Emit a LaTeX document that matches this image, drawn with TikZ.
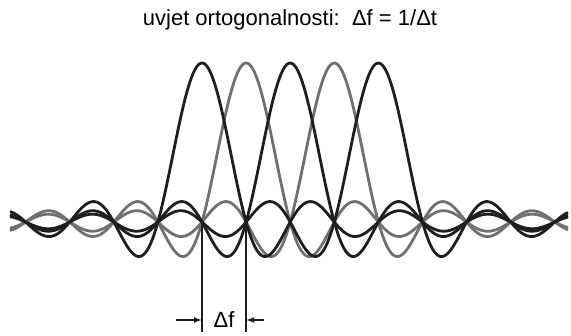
\documentclass[tikz,border=0pt]{standalone}
\usepackage{fontspec}
\setmainfont{Liberation Sans}
\usepackage{xcolor}
\usetikzlibrary{positioning, arrows.meta}
\definecolor{darkline}{HTML}{1E1E1E}
\definecolor{grayline}{HTML}{707070}

\begin{document}
\begin{tikzpicture}[x=0.5pt, y=0.5pt,
    carrier/.style={line width=1.4pt, line join=round},
    marker/.style={line width=0.8pt, darkline},
    markarrow/.style={marker, -{Latex[length=4pt, width=3pt]}}]
  \useasboundingbox (0,0) rectangle (571,336);
  \node (title) at (290,316) {\fontsize{11}{13}\selectfont uvjet ortogonalnosti:\ \ Δf = 1/Δt};
  \foreach \k/\col in {1/grayline, 3/grayline, 0/darkline, 2/darkline, 4/darkline}{
    \draw[carrier, \col] plot[domain=10:568, samples=420]
      (\x, {114 + 159*sin((pi*(\x-202-44.1*\k)/44.1 + 0.0001) r)/(pi*(\x-202-44.1*\k)/44.1 + 0.0001)});
  }
  \coordinate (ltop) at (202,114);
  \coordinate (lbot) at (202,4);
  \coordinate (rtop) at (246.1,114);
  \coordinate (rbot) at (246.1,4);
  \coordinate (lfrom) at (176,16);
  \coordinate (rfrom) at (264,16);
  \draw[marker] (ltop) -- (lbot);
  \draw[marker] (rtop) -- (rbot);
  \draw[markarrow] (lfrom) -- (lfrom -| lbot);
  \draw[markarrow] (rfrom) -- (rfrom -| rbot);
  \node (gap) at (224,16) {\fontsize{11}{13}\selectfont Δf};
\end{tikzpicture}
\end{document}
